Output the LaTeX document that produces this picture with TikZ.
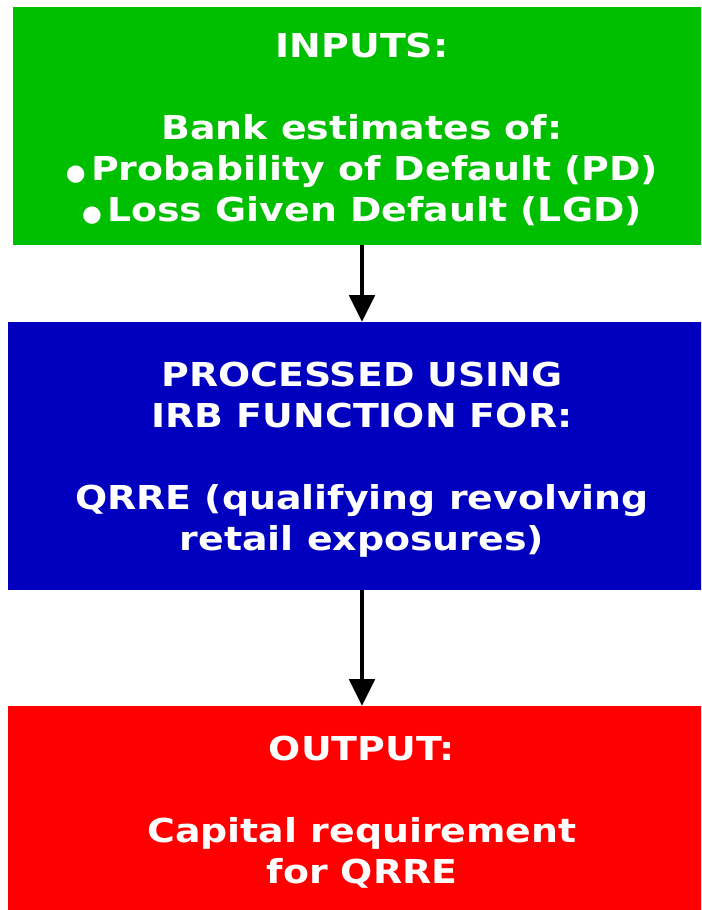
\documentclass[tikz,border=0pt]{standalone}
\usepackage{fontspec}
\setmainfont{DejaVu Sans}[FakeStretch=1.15]
\newfontfamily\dotfont{DejaVu Sans}
\usetikzlibrary{arrows.meta}

\definecolor{inputgreen}{RGB}{0,190,0}
\definecolor{irbblue}{RGB}{0,0,190}
\definecolor{outred}{RGB}{255,0,0}

\tikzset{
  stagebox/.style={rectangle, inner sep=0pt, text=white, align=center,
    font=\bfseries\fontsize{24.7}{30.75}\selectfont},
  flowarrow/.style={line width=3pt, -{Triangle[length=20pt,width=19pt]}}
}

\begin{document}
\begin{tikzpicture}[x=0.75pt,y=-0.75pt]

  % page is 701 x 910 px
  \clip (0,0) rectangle (701,910);
  \useasboundingbox (0,0) rectangle (701,910);

  \def\midx{362};
  \def\bul{{\dotfont\fontsize{17}{17}\selectfont\raisebox{0.02em}{●}}};
  \def\topstrut{\rule{0pt}{24pt}};   % pushes the text block down a little

  % the three stages
  \node[stagebox, fill=inputgreen, minimum width=523.5pt, minimum height=178.5pt]
    (inputs) at (\midx,126)
    {\topstrut INPUTS:\\[30.75pt]Bank estimates of:\\
     \bul\,Probability of Default (PD)\\
     \bul\,Loss Given Default (LGD)};

  \node[stagebox, fill=irbblue, minimum width=531pt, minimum height=201pt]
    (process) at (\midx,456)
    {\topstrut PROCESSED USING\\IRB FUNCTION FOR:\\[30.75pt]
     QRRE (qualifying revolving\\retail exposures)};

  \node[stagebox, fill=outred, minimum width=531pt, minimum height=153pt]
    (output) at (\midx,808)
    {\topstrut OUTPUT:\\[30.75pt]Capital requirement\\for QRRE};

  % arrows between stages
  \draw[flowarrow] (inputs.south) -- (process.north);
  \draw[flowarrow] (process.south) -- (output.north);

\end{tikzpicture}
\end{document}
